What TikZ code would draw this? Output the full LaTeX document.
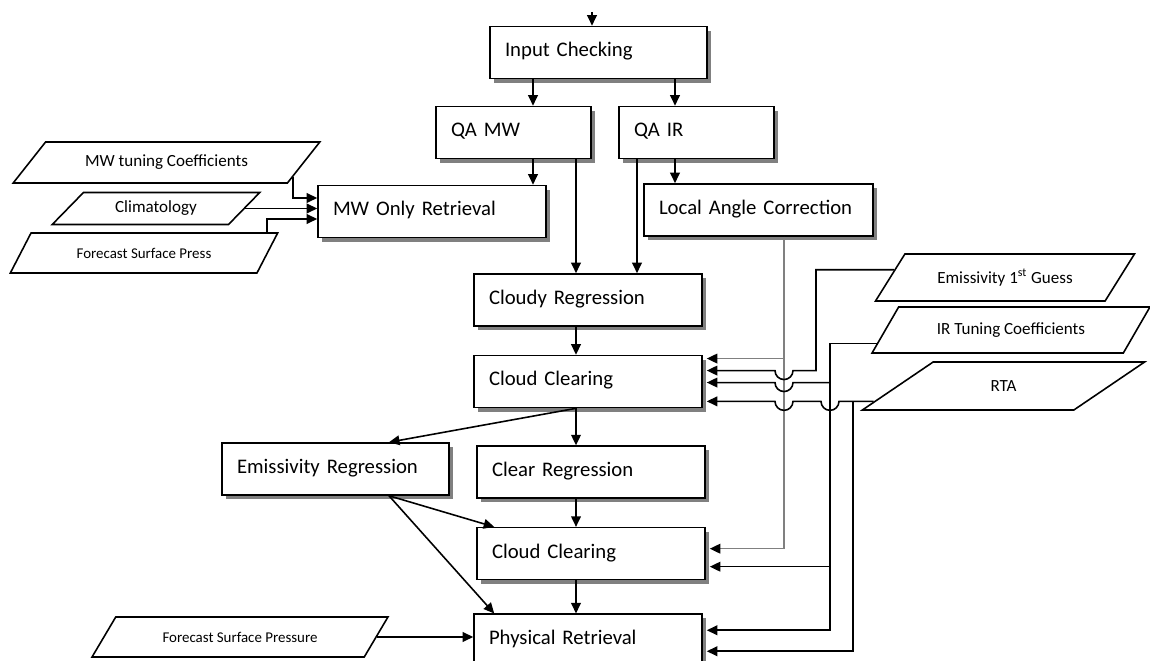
\documentclass[tikz,border=0pt]{standalone}
\usepackage{fontspec}
\setmainfont{Carlito}
\usetikzlibrary{arrows.meta,positioning,shapes.geometric,shadows,calc}

\newcommand{\boxfont}{\fontsize{11.8}{14}\selectfont}
\newcommand{\datafont}{\fontsize{9.7}{11}\selectfont}
\newcommand{\smalldatafont}{\fontsize{8.5}{10}\selectfont}

\tikzset{
  proc/.style={draw, fill=white, text width=3.96cm, align=left, inner xsep=0.3cm,
    minimum height=1.04cm, text height=0.7em, text depth=0.2em, font=\boxfont,
    drop shadow={shadow xshift=2.3pt, shadow yshift=-2.3pt, fill=gray, opacity=1}},
  data/.style={trapezium, trapezium left angle=40, trapezium right angle=140,
    trapezium stretches=true, draw, fill=white, inner sep=0pt, font=\datafont},
  lacline/.style={draw=gray, -{Triangle[length=6pt,width=5.5pt,color=black]}}
}

\begin{document}
\begin{tikzpicture}[x=0.02cm, y=-0.02cm, >={Triangle[length=6pt,width=5.5pt]}, line width=0.9pt]
\useasboundingbox (0,0) rectangle (1150,661);

% processing steps
\node[proc, text width=3.74cm] (inchk) at (598.5,52.5) {Input Checking};
\node[proc, text width=2.5cm] (qamw) at (513.5,132.5) {QA MW};
\node[proc, text width=2.5cm] (qair) at (696.5,132.5) {QA IR};
\node[proc] (mwor) at (432,211.5) {MW Only Retrieval};
\node[proc, text width=3.98cm] (lac) at (758.5,210) {Local Angle Correction};
\node[proc] (cldreg) at (588,300) {Cloudy Regression};
\node[proc] (cc1) [below=0.56cm of cldreg] {Cloud Clearing};
\node[proc, text width=3.94cm] (emreg) at (335.5,469) {Emissivity Regression};
\node[proc] (clrreg) [below=0.74cm of cc1, xshift=0.06cm] {Clear Regression};
\node[proc] (cc2) [below=0.56cm of clrreg] {Cloud Clearing};
\node[proc] (physret) [below=0.66cm of cc2, xshift=-0.06cm] {Physical Retrieval};

% input data
\node[data, trapezium left angle=34, trapezium right angle=146, minimum width=6.14cm, minimum height=0.82cm] (mwtc) at (166.5,162.5) {MW tuning Coefficients};
\node[data, minimum width=4.16cm, minimum height=0.64cm] (clim) at (156,208.5) {Climatology};
\node[data, minimum width=5.36cm, minimum height=0.8cm, font=\smalldatafont] (fsp) at (144,253) {Forecast Surface Press};
\node[data, trapezium left angle=35, trapezium right angle=145, minimum width=5.92cm, minimum height=0.8cm, font=\smalldatafont] (fsp2) at (240,637) {Forecast Surface Pressure};
\node[data, minimum width=5.2cm, minimum height=0.94cm] (em1g) at (1005,277.5) {Emissivity 1\textsuperscript{st} Guess};
\node[data, minimum width=5.56cm, minimum height=0.92cm] (irtc) at (1011,330) {IR Tuning Coefficients};
\node[data, minimum width=5.66cm, minimum height=0.96cm] (rta) at (1003.5,386) {RTA};

% columns of the connectors
\coordinate (feed) at (592,12);
\coordinate (mwx) at (533,0);
\coordinate (irx) at (675,0);
\coordinate (trunk) at (576,0);
\coordinate (irdown) at (637,0);
\coordinate (emx) at (389,0);
\coordinate (lacx) at (784,0);
\coordinate (emcol) at (816,0);
\coordinate (ircol) at (830,0);
\coordinate (rtacol) at (853,0);

% main flow
\draw[->] (feed) -- (feed |- inchk.north);
\draw[->] (inchk.south -| mwx) -- (qamw.north -| mwx);
\draw[->] (inchk.south -| irx) -- (qair.north -| irx);
\draw[->] (qamw.south -| mwx) -- (mwor.north -| mwx);
\draw[->] (qamw.south -| trunk) -- (cldreg.north -| trunk);
\draw[->] (qair.south -| irx) -- (lac.north -| irx);
\draw[->] (qair.south -| irdown) -- (cldreg.north -| irdown);
\draw[->] (cldreg.south -| trunk) -- (cc1.north -| trunk);
\draw[->] (cc1.south -| trunk) -- (emreg.north -| emx);
\draw[->] (cc1.south -| trunk) -- (clrreg.north -| trunk);
\draw[->] (clrreg.south -| trunk) -- (cc2.north -| trunk);
\draw[->] (cc2.south -| trunk) -- (physret.north -| trunk);
\draw (physret.south -| trunk) -- ++(0,12);
\draw[->] (emreg.south -| emx) -- ([xshift=0.36cm]cc2.north west);
\draw[->] (emreg.south -| emx) -- ([xshift=0.42cm]physret.north west);

% inputs on the left
\draw[->] ($(mwtc.bottom right corner)!0.15!(mwtc.top right corner)$) |- ([yshift=0.27cm]mwor.west);
\draw[->] (clim.east) -- (clim.east -| mwor.west);
\draw[->] ([xshift=-0.24cm]fsp.top right corner) |- ([yshift=-0.15cm]mwor.west);
\draw[->] (fsp2.east) -- (fsp2.east -| physret.west);

% inputs on the right
\coordinate (em1g-out) at ($(em1g.bottom left corner)!0.66!(em1g.top left corner)$);
\coordinate (irtc-out) at ($(irtc.bottom left corner)!0.22!(irtc.top left corner)$);
\coordinate (rta-out) at ($(rta.bottom left corner)!0.19!(rta.top left corner)$);
\coordinate (cc1-a) at ([xshift=0.08cm, yshift=0.46cm]cc1.east);
\coordinate (cc1-b) at ([xshift=0.08cm, yshift=0.22cm]cc1.east);
\coordinate (cc1-c) at ([xshift=0.08cm, yshift=-0.02cm]cc1.east);
\coordinate (cc1-d) at ([xshift=0.08cm]rta-out -| cc1.east);
\coordinate (cc2-a) at ([xshift=0.08cm, yshift=0.1cm]cc2.east);
\coordinate (cc2-b) at ([xshift=0.08cm, yshift=-0.26cm]cc2.east);
\coordinate (pr-a) at ([xshift=0.08cm, yshift=0.2cm]physret.east);
\coordinate (pr-b) at ([xshift=0.08cm, yshift=-0.22cm]physret.east);

\draw[lacline] (lac.south -| lacx) |- (cc1-a);
\draw[lacline] (lac.south -| lacx) |- (cc2-a);
\draw[->] (em1g-out) -| (emcol |- cc1-b) -- ([xshift=0.18cm]lacx |- cc1-b)
  arc[start angle=0, end angle=-180, radius=0.18cm] -- (cc1-b);
\draw[->] (irtc-out) -| (ircol |- pr-a) -- (pr-a);
\draw[->] (ircol |- cc1-c) -- ([xshift=0.18cm]lacx |- cc1-c)
  arc[start angle=0, end angle=-180, radius=0.18cm] -- (cc1-c);
\draw[->] (ircol |- cc2-b) -- (cc2-b);
\draw[->] (rta-out) -- ([xshift=0.18cm]ircol |- rta-out)
  arc[start angle=0, end angle=-180, radius=0.18cm] -- ([xshift=0.18cm]lacx |- rta-out)
  arc[start angle=0, end angle=-180, radius=0.18cm] -- (cc1-d);
\draw[->] (rta-out -| rtacol) |- (pr-b);
\end{tikzpicture}
\end{document}
